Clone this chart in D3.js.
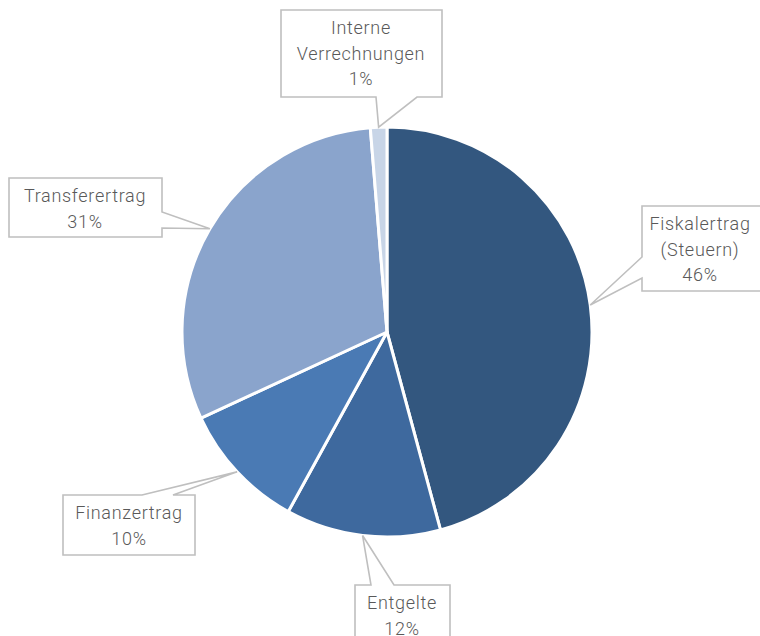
<!DOCTYPE html>
<html>
<head>
<meta charset="utf-8">
<script src="https://cdn.jsdelivr.net/npm/d3@7/dist/d3.min.js"></script>
<style>
html,body{margin:0;padding:0;background:#fff;}
svg{display:block;}
</style>
</head>
<body>
<svg id="chart" width="760" height="636"></svg>
<script>
// ---- data ----
const categories = ["Fiskalertrag (Steuern)", "Entgelte", "Finanzertrag", "Transferertrag", "Interne Verrechnungen"];
const labelLines = [["Fiskalertrag", "(Steuern)"], ["Entgelte"], ["Finanzertrag"], ["Transferertrag"], ["Interne", "Verrechnungen"]];
const values = [45.8, 12.2, 10.1, 30.6, 1.3];
const percentLabels = ["46%", "12%", "10%", "31%", "1%"];
const colors = ["#33577f", "#3e699e", "#4a7ab4", "#8aa4cc", "#c8d5e7"];

// ---- layout ----
const W = 760, H = 636;
const cx = 387, cy = 332, R = 205;
const boxLayout = [
  {x: 642, y: 206, w: 130, h: 85, side: "left", b1: 257, b2: 278, mid: 700},
  {x: 355, y: 585, w: 95, h: 70, side: "top", b1: 371, b2: 394, mid: 402},
  {x: 63, y: 495, w: 132, h: 60, side: "top", b1: 142, b2: 173, mid: 129},
  {x: 9, y: 178, w: 153, h: 59, side: "right", b1: 212, b2: 228, mid: 85},
  {x: 281, y: 10, w: 161, h: 87, side: "bottom", b1: 376, b2: 417, mid: 361}
];
const fontSize = 18, lineH = 25.5;

const svg = d3.select("#chart");
const g = svg.append("g").attr("transform", `translate(${cx},${cy})`);

const pie = d3.pie().sort(null).value(d => d)(values);
const arc = d3.arc().innerRadius(0).outerRadius(R);
const edgeArc = d3.arc().innerRadius(R).outerRadius(R);

g.selectAll("path.slice").data(pie).join("path")
  .attr("class", "slice")
  .attr("d", arc)
  .attr("fill", (d, i) => colors[i])
  .attr("stroke", "#fff")
  .attr("stroke-width", 3)
  .attr("stroke-linejoin", "round");

pie.forEach((d, i) => {
  const b = boxLayout[i];
  const c = edgeArc.centroid(d);
  const tx = cx + c[0], ty = cy + c[1];
  const L = b.x, T = b.y, Rr = b.x + b.w, B = b.y + b.h;
  let p;
  if (b.side === "bottom") {
    p = `M${L},${T}H${Rr}V${B}H${b.b2}L${tx},${ty}L${b.b1},${B}H${L}Z`;
  } else if (b.side === "top") {
    p = `M${L},${T}H${b.b1}L${tx},${ty}L${b.b2},${T}H${Rr}V${B}H${L}Z`;
  } else if (b.side === "left") {
    p = `M${L},${T}H${Rr}V${B}H${L}V${b.b2}L${tx},${ty}L${L},${b.b1}Z`;
  } else {
    p = `M${L},${T}H${Rr}V${b.b1}L${tx},${ty}L${Rr},${b.b2}V${B}H${L}Z`;
  }
  svg.append("path").attr("d", p)
    .attr("fill", "#fff").attr("stroke", "#bfbfbf").attr("stroke-width", 1.6)
    .attr("stroke-linejoin", "miter");
  const lines = labelLines[i].concat([percentLabels[i]]);
  const t = svg.append("text")
    .attr("text-anchor", "middle")
    .attr("font-family", "Roboto, 'Liberation Sans', Arial, sans-serif")
    .attr("font-weight", 300)
    .attr("letter-spacing", "0.7px")
    .attr("font-size", fontSize)
    .attr("fill", "#595959");
  lines.forEach((ln, k) => {
    t.append("tspan").attr("x", b.mid).attr("y", T + 24 + k * lineH).text(ln);
  });
});
</script>
</body>
</html>
